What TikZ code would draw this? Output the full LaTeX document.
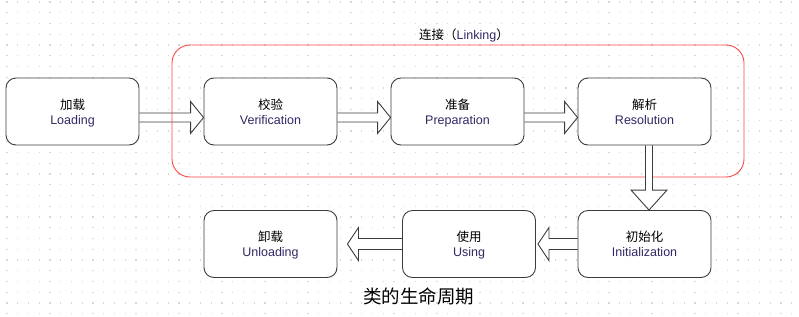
\documentclass[tikz,border=0pt]{standalone}
\usepackage{fontspec}
\setmainfont{Liberation Sans}
\newfontfamily\cjk{Noto Sans CJK SC}
\usetikzlibrary{calc}
\definecolor{eng}{RGB}{50,40,100}
\definecolor{boxline}{RGB}{60,60,60}
\definecolor{redline}{RGB}{255,70,70}
\definecolor{griddot}{RGB}{215,215,215}
\pgfdeclarelayer{bg}
\pgfdeclarelayer{lowarr}
\pgfdeclarelayer{frame}
\pgfdeclarelayer{arr}
\pgfsetlayers{bg,lowarr,frame,arr,main}
\newcommand\stagetext[2]{\raisebox{0pt}[\dimexpr\height+4pt\relax][\depth]{\begin{tabular}{@{}c@{}}\strut{\cjk #1}\\\strut{\color{eng}#2}\end{tabular}}}
\tikzset{
  stagebox/.style={draw=boxline, line width=0.9pt, fill=white, rounded corners=10pt,
    minimum width=133pt, minimum height=67pt, inner sep=0pt, align=center,
    font=\fontsize{12.5}{15}\selectfont},
  blockarr/.style={draw=boxline, line width=0.9pt, fill=white, line join=miter},
  framebox/.style={draw=redline, line width=0.9pt, rounded corners=18pt,
    minimum width=572pt, minimum height=132pt, inner sep=0pt},
}
% right-pointing hollow arrow: from, to, vertical offset (down), shaft half, head half, head length
\newcommand\rblock[6]{%
  \path let \p1=(#1.east), \p2=(#2.west) in [blockarr]
    (\x1,\y1-#3pt+#4pt) -- (\x2-#6pt,\y1-#3pt+#4pt) -- (\x2-#6pt,\y1-#3pt+#5pt) --
    (\x2,\y1-#3pt) -- (\x2-#6pt,\y1-#3pt-#5pt) -- (\x2-#6pt,\y1-#3pt-#4pt) --
    (\x1,\y1-#3pt-#4pt);}
% left-pointing hollow arrow: from, to, gap at tip, shaft half, head half, head length
\newcommand\lblock[6]{%
  \path let \p1=(#1.west), \p2=(#2.east) in [blockarr]
    (\x1,\y1+#4pt) -- (\x2+#3pt+#6pt,\y1+#4pt) -- (\x2+#3pt+#6pt,\y1+#5pt) --
    (\x2+#3pt,\y1) -- (\x2+#3pt+#6pt,\y1-#5pt) -- (\x2+#3pt+#6pt,\y1-#4pt) --
    (\x1,\y1-#4pt);}
\begin{document}
\begin{tikzpicture}[x=1pt,y=-1pt]
\useasboundingbox (0,0) rectangle (799,316);
\begin{pgfonlayer}{bg}
  \fill[white] (0,0) rectangle (799,316);
  \foreach \i in {0,...,74}{
    \foreach \j in {0,...,29}{
      \fill[griddot] ({7+\i*10.75-0.6},{2+\j*10.75-0.6}) rectangle ++(1.2,1.2);
    }
  }
\end{pgfonlayer}

\node[stagebox] (load)  at (72.5,111.5) {\stagetext{加载}{Loading}};
\node[stagebox] (verif) at (270.5,111.5) {\stagetext{校验}{Verification}};
\node[stagebox] (prep)  at (457.5,111.5) {\stagetext{准备}{Preparation}};
\node[stagebox] (res)   at (644.5,111.5) {\stagetext{解析}{Resolution}};
\node[stagebox] (init)  at (644.5,244) {\stagetext{初始化}{Initialization}};
\node[stagebox] (use)   at (469,244) {\stagetext{使用}{Using}};
\node[stagebox] (unload) at (270.5,244) {\stagetext{卸载}{Unloading}};

\begin{pgfonlayer}{frame}
  \node[framebox] (linking) at (458,111) {};
\end{pgfonlayer}
\node[font=\fontsize{12.5}{15}\selectfont, inner sep=0pt] (linklabel) at (464,35)
  {{\cjk 连接（}{\color{eng}Linking}{\cjk ）}};

\begin{pgfonlayer}{lowarr}
  \rblock{load}{verif}{6}{4.5}{16}{13}
\end{pgfonlayer}
\begin{pgfonlayer}{arr}
  \rblock{verif}{prep}{6}{4.5}{16}{13}
  \rblock{prep}{res}{6}{4.5}{16}{13}
  \lblock{init}{use}{2}{5.5}{16.5}{11}
  \lblock{use}{unload}{10}{5.5}{16.5}{11}
  \path let \p1=(res.south), \p2=(init.north) in [blockarr]
    (\x1+1pt,\y1) -- (\x1+1pt,\y2+20pt) -- (\x1-13.5pt,\y2+20pt) -- (\x1+4.5pt,\y2) --
    (\x1+22.5pt,\y2+20pt) -- (\x1+8pt,\y2+20pt) -- (\x1+8pt,\y1);
\end{pgfonlayer}

\node[font=\cjk\fontsize{18.5}{20}\selectfont, inner sep=0pt] (caption) at (418.5,296) {类的生命周期};
\end{tikzpicture}
\end{document}
